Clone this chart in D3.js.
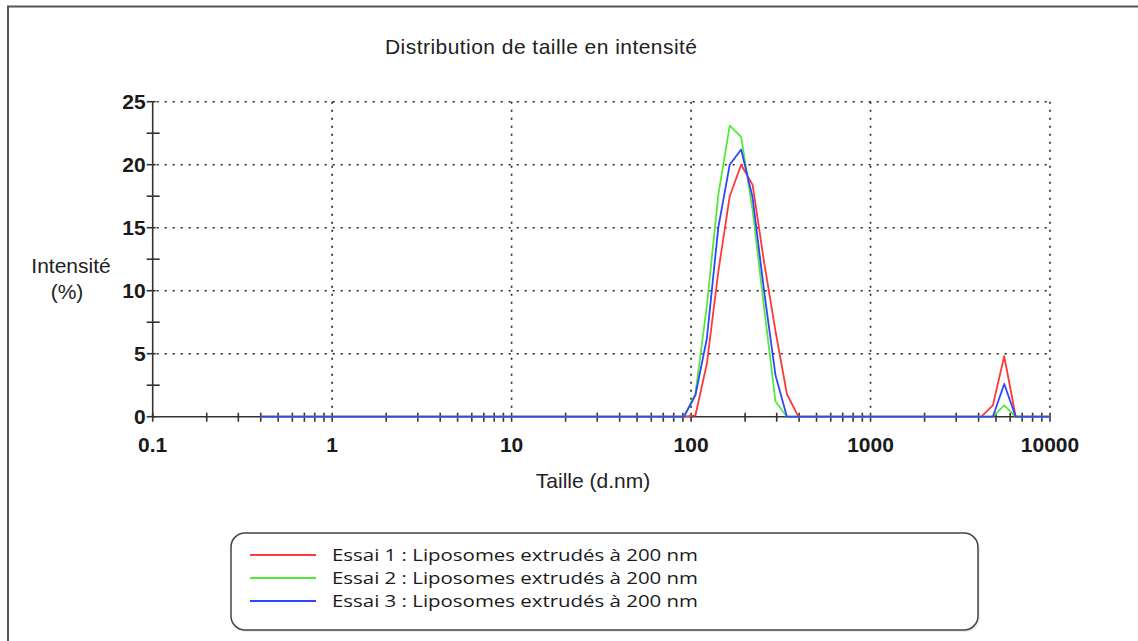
<!DOCTYPE html>
<html>
<head>
<meta charset="utf-8">
<script src="https://cdn.jsdelivr.net/npm/d3@7"></script>
<style>
  body { margin: 0; background: #fff; }
  svg { display: block; }
</style>
</head>
<body>
<div id="chart"></div>
<script>
// Size bins (d.nm) of the instrument
const sizes = [0.4, 0.4632, 0.5365, 0.6213, 0.7195, 0.8332, 0.9649, 1.117, 1.294, 1.499,
  1.736, 2.010, 2.328, 2.696, 3.122, 3.615, 4.187, 4.849, 5.615, 6.503,
  7.531, 8.721, 10.10, 11.70, 13.54, 15.69, 18.17, 21.04, 24.36, 28.21,
  32.67, 37.84, 43.82, 50.75, 58.77, 68.06, 78.82, 91.28, 105.7, 122.4,
  141.8, 164.2, 190.1, 220.2, 255.0, 295.3, 342.0, 396.1, 458.7, 531.2,
  615.1, 712.4, 825.0, 955.4, 1106, 1281, 1484, 1718, 1990, 2305,
  2669, 3091, 3580, 4145, 4801, 5560, 6439, 7456, 8635, 10000];

// Intensity (%) per bin
const essai1 = [0, 0, 0, 0, 0, 0, 0, 0, 0, 0,
  0, 0, 0, 0, 0, 0, 0, 0, 0, 0,
  0, 0, 0, 0, 0, 0, 0, 0, 0, 0,
  0, 0, 0, 0, 0, 0, 0, 0, 0.1, 4.2,
  11.5, 17.5, 20.0, 18.4, 12.3, 6.8, 1.8, 0, 0, 0,
  0, 0, 0, 0, 0, 0, 0, 0, 0, 0,
  0, 0, 0, 0, 0.9, 4.8, 0, 0, 0, 0];
const essai2 = [0, 0, 0, 0, 0, 0, 0, 0, 0, 0,
  0, 0, 0, 0, 0, 0, 0, 0, 0, 0,
  0, 0, 0, 0, 0, 0, 0, 0, 0, 0,
  0, 0, 0, 0, 0, 0, 0, 0, 1.8, 8.8,
  17.6, 23.1, 22.2, 16.4, 8.7, 1.2, 0, 0, 0, 0,
  0, 0, 0, 0, 0, 0, 0, 0, 0, 0,
  0, 0, 0, 0, 0, 0.9, 0, 0, 0, 0];
const essai3 = [0, 0, 0, 0, 0, 0, 0, 0, 0, 0,
  0, 0, 0, 0, 0, 0, 0, 0, 0, 0,
  0, 0, 0, 0, 0, 0, 0, 0, 0, 0,
  0, 0, 0, 0, 0, 0, 0, 0, 1.7, 6.2,
  15.0, 20.0, 21.2, 17.4, 10.0, 3.3, 0, 0, 0, 0,
  0, 0, 0, 0, 0, 0, 0, 0, 0, 0,
  0, 0, 0, 0, 0, 2.6, 0, 0, 0, 0];

const seriesNames = ["Essai 1 : Liposomes extrudés à 200 nm",
  "Essai 2 : Liposomes extrudés à 200 nm",
  "Essai 3 : Liposomes extrudés à 200 nm"];
const seriesColors = ["#ff3838", "#55e83a", "#2f45ff"];

const xMajorTicks = [0.1, 1, 10, 100, 1000, 10000];
const xTickLabels = ["0.1", "1", "10", "100", "1000", "10000"];
const yMajorTicks = [0, 5, 10, 15, 20, 25];
const yMinorTicks = [2.5, 7.5, 12.5, 17.5, 22.5];

const W = 1138, H = 641;
const svg = d3.select("#chart").append("svg")
    .attr("width", W)
    .attr("height", H)
    .style("font-family", "'Liberation Sans', Arial, sans-serif");

// outer frame (only top and left visible)
svg.append("path")
    .attr("d", `M8,${H} V6.5 H${W}`)
    .attr("fill", "none")
    .attr("stroke", "#555")
    .attr("stroke-width", 2);

const x = d3.scaleLog().domain([0.1, 10000]).range([152.7, 1050]);
const y = d3.scaleLinear().domain([0, 25]).range([416.7, 101.7]);

// minor x ticks: 2..9 in each decade
const xMinorTicks = [];
xMajorTicks.slice(0, -1).forEach(d => {
    for (let k = 2; k <= 9; k++) xMinorTicks.push(+(d * k).toPrecision(3));
});

// grid (dotted)
const grid = svg.append("g")
    .attr("stroke", "#222")
    .attr("stroke-width", 1.6)
    .attr("stroke-dasharray", "2,6");

grid.selectAll(".hgrid")
    .data(yMajorTicks.slice(1))
    .enter()
    .append("line")
    .attr("x1", x(0.1) + 4)
    .attr("x2", x(10000))
    .attr("y1", d => y(d))
    .attr("y2", d => y(d));

grid.selectAll(".vgrid")
    .data(xMajorTicks.slice(1))
    .enter()
    .append("line")
    .attr("x1", d => x(d))
    .attr("x2", d => x(d))
    .attr("y1", y(25))
    .attr("y2", y(0) - 4);

// axes lines
const axes = svg.append("g").attr("stroke", "#333").attr("stroke-width", 1.6);
axes.append("line")
    .attr("x1", x(0.1)).attr("x2", x(0.1))
    .attr("y1", y(25)).attr("y2", y(0));
axes.append("line")
    .attr("x1", x(0.1)).attr("x2", x(10000))
    .attr("y1", y(0)).attr("y2", y(0));

axes.selectAll(".ymaj")
    .data(yMajorTicks)
    .enter()
    .append("line")
    .attr("x1", x(0.1) - 6).attr("x2", x(0.1) + 3)
    .attr("y1", d => y(d)).attr("y2", d => y(d));

axes.selectAll(".ymin")
    .data(yMinorTicks)
    .enter()
    .append("line")
    .attr("x1", x(0.1) - 6).attr("x2", x(0.1) + 7)
    .attr("y1", d => y(d)).attr("y2", d => y(d));

axes.selectAll(".xmin")
    .data(xMinorTicks.concat(xMajorTicks))
    .enter()
    .append("line")
    .attr("x1", d => x(d)).attr("x2", d => x(d))
    .attr("y1", y(0) - 4).attr("y2", y(0) + 5);

// tick labels
svg.selectAll(".ylab")
    .data(yMajorTicks)
    .enter()
    .append("text")
    .attr("x", x(0.1) - 7)
    .attr("y", d => y(d) + 7.5)
    .attr("text-anchor", "end")
    .attr("font-size", 21)
    .attr("font-weight", "bold")
    .attr("fill", "#1a1a1a")
    .text(d => d);

svg.selectAll(".xlab")
    .data(xMajorTicks)
    .enter()
    .append("text")
    .attr("x", d => x(d))
    .attr("y", 452)
    .attr("text-anchor", "middle")
    .attr("font-size", 21)
    .attr("font-weight", "bold")
    .attr("fill", "#1a1a1a")
    .text((d, i) => xTickLabels[i]);

// titles
svg.append("text")
    .attr("x", 541)
    .attr("y", 54)
    .attr("text-anchor", "middle")
    .attr("font-size", 21)
    .attr("fill", "#222")
    .attr("textLength", 312)
    .text("Distribution de taille en intensité");

svg.append("text")
    .attr("x", 593)
    .attr("y", 488)
    .attr("text-anchor", "middle")
    .attr("font-size", 21)
    .attr("fill", "#222")
    .text("Taille (d.nm)");

svg.append("text")
    .attr("x", 71)
    .attr("y", 273)
    .attr("text-anchor", "middle")
    .attr("font-size", 21)
    .attr("fill", "#222")
    .text("Intensité");

svg.append("text")
    .attr("x", 67)
    .attr("y", 299)
    .attr("text-anchor", "middle")
    .attr("font-size", 21)
    .attr("fill", "#222")
    .text("(%)");

// series lines
const line = d3.line()
    .x((d, i) => x(sizes[i]))
    .y(d => y(d));

[essai1, essai2, essai3].forEach((vals, k) => {
    svg.append("path")
        .datum(vals)
        .attr("fill", "none")
        .attr("stroke", seriesColors[k])
        .attr("stroke-width", 1.8)
        .attr("stroke-linejoin", "round")
        .attr("d", line);
});

// legend
const lg = svg.append("g");
lg.append("rect")
    .attr("x", 233).attr("y", 536)
    .attr("width", 747).attr("height", 96)
    .attr("rx", 14)
    .attr("fill", "#ddd")
    .attr("opacity", 0.6);
lg.append("rect")
    .attr("x", 231).attr("y", 533)
    .attr("width", 747).attr("height", 97)
    .attr("rx", 14)
    .attr("fill", "#fff")
    .attr("stroke", "#444")
    .attr("stroke-width", 1.5);

seriesNames.forEach((name, k) => {
    const ly = 555 + k * 23;
    lg.append("line")
        .attr("x1", 250).attr("x2", 316)
        .attr("y1", ly).attr("y2", ly)
        .attr("stroke", seriesColors[k])
        .attr("stroke-width", 2);
    lg.append("text")
        .attr("x", 332)
        .attr("y", ly + 6)
        .attr("font-family", "'Open Sans', 'Noto Sans', sans-serif")
        .attr("font-size", 16)
        .attr("fill", "#1a1a1a")
        .attr("textLength", 366)
        .attr("lengthAdjust", "spacingAndGlyphs")
        .text(name);
});
</script>
</body>
</html>
